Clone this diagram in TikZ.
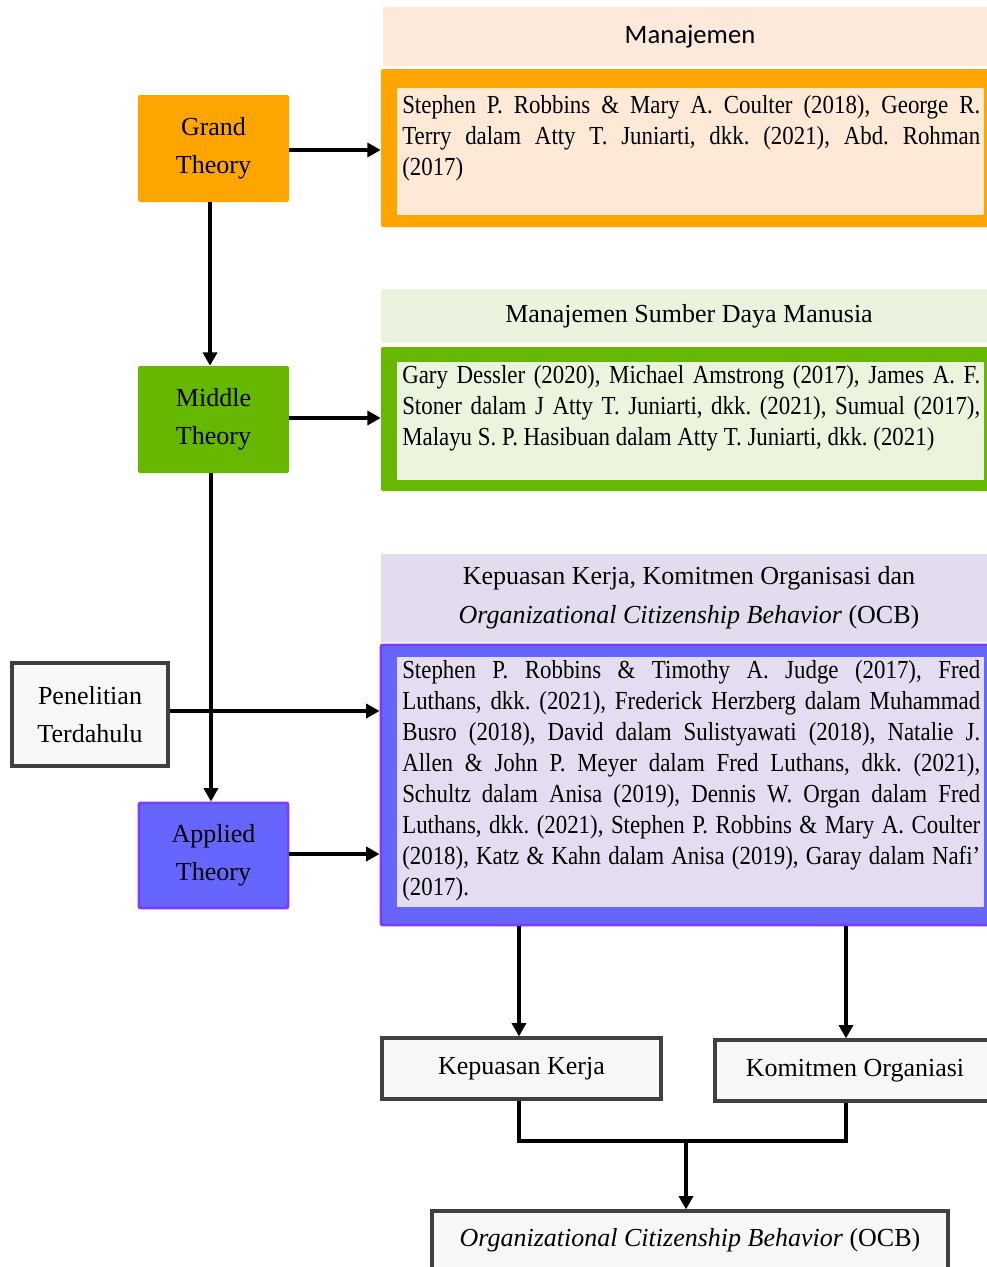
\documentclass[tikz,border=0pt]{standalone}
\usepackage{fontspec}
\setmainfont{Liberation Serif}
\newfontfamily\calibfont{Carlito}
\newfontfamily\condser[FakeStretch=0.88]{Liberation Serif}
\usetikzlibrary{arrows.meta}
\definecolor{orangeA}{HTML}{FFA500}
\definecolor{peachHdr}{HTML}{FCE9DB}
\definecolor{peachIn}{HTML}{FDE9D5}
\definecolor{greenA}{HTML}{66B700}
\definecolor{greenHdr}{HTML}{EBF3DE}
\definecolor{greenIn}{HTML}{EBF5DD}
\definecolor{blueA}{HTML}{6666FF}
\definecolor{purpleB}{HTML}{7A3CFF}
\definecolor{lavHdr}{HTML}{E2DCEE}
\definecolor{lavIn}{HTML}{E4DCF0}
\definecolor{greyFill}{HTML}{F7F7F7}
\definecolor{greyLine}{HTML}{404040}
\newcommand\labfont{\fontsize{19.5}{28.5}\selectfont}
\newcommand\hdrfont{\fontsize{19.5}{29.25}\selectfont}
\newcommand\parfont{\condser\fontsize{19.5}{23.25}\selectfont\frenchspacing}
\begin{document}
\begin{tikzpicture}[x=0.75pt,y=-0.75pt,
  box/.style={rectangle, inner sep=0pt, align=center, font=\labfont},
  theorybox/.style={box, rounded corners=1.5pt, minimum width=113.25pt, minimum height=80.25pt},
  greybox/.style={box, fill=greyFill, draw=greyLine, line width=2.4pt},
  hdr/.style={box, minimum width=462pt, font=\hdrfont},
  outerbox/.style={rectangle, inner sep=0pt, rounded corners=1.5pt, minimum width=462pt},
  innerbox/.style={rectangle, inner sep=0pt, minimum width=440.25pt},
  reftext/.style={anchor=base west, inner sep=0pt, text width=433.5pt, align=justify, font=\parfont},
  arr/.style={line width=2.8pt, -{Triangle[length=10pt,width=10.5pt]}},
  conn/.style={line width=2.8pt, line join=miter}]
\useasboundingbox (0,0) rectangle (987,1267);

% ---------- Grand theory ----------
\node[hdr, fill=peachHdr, minimum width=460.5pt, minimum height=44.25pt, font=\calibfont\fontsize{20}{24}\selectfont] (hdr1) at (690,36.5) {Manajemen};
\node[outerbox, fill=orangeA, minimum height=118.5pt] (ref1) at (689,148) {};
\node[innerbox, fill=peachIn, minimum height=95.25pt] (ref1in) at (690.5,151.5) {};
\node[reftext] (ref1txt) at (402,113) {Stephen P. Robbins \& Mary A. Coulter (2018), George R.\linebreak
Terry dalam Atty T. Juniarti, dkk. (2021), Abd. Rohman\linebreak
(2017)};
\node[theorybox, fill=orangeA] (grand) at (213.5,148.5) {Grand\\Theory};

% ---------- Middle theory ----------
\node[hdr, fill=greenHdr, minimum height=40.5pt] (hdr2) at (689,316) {Manajemen Sumber Daya Manusia};
\node[outerbox, fill=greenA, minimum height=108pt] (ref2) at (689,419) {};
\node[innerbox, fill=greenIn, minimum height=88.5pt] (ref2in) at (690.5,421) {};
\node[reftext] (ref2txt) at (402,383) {Gary Dessler (2020), Michael Amstrong (2017), James A. F.\linebreak
Stoner dalam J Atty T. Juniarti, dkk. (2021), Sumual (2017),\linebreak
Malayu S. P. Hasibuan dalam Atty T. Juniarti, dkk. (2021)};
\node[theorybox, fill=greenA] (middle) at (213.5,419.5) {Middle\\Theory};

% ---------- Applied theory ----------
\node[hdr, fill=lavHdr, minimum height=66pt] (hdr3) at (689,598) {Kepuasan Kerja, Komitmen Organisasi dan\\\textit{Organizational Citizenship Behavior} (OCB)};
\node[outerbox, fill=blueA, draw=purpleB, line width=2.2pt, minimum height=210pt] (ref3) at (689,785) {};
\node[innerbox, fill=lavIn, minimum height=187.5pt] (ref3in) at (690.5,782) {};
\node[reftext] (ref3txt) at (402,678) {Stephen P. Robbins \& Timothy A. Judge (2017), Fred\linebreak
Luthans, dkk. (2021), Frederick Herzberg dalam Muhammad\linebreak
Busro (2018), David dalam Sulistyawati (2018), Natalie J.\linebreak
Allen \& John P. Meyer dalam Fred Luthans, dkk. (2021),\linebreak
Schultz dalam Anisa (2019), Dennis W. Organ dalam Fred\linebreak
Luthans, dkk. (2021), Stephen P. Robbins \& Mary A. Coulter\linebreak
(2018), Katz \& Kahn dalam Anisa (2019), Garay dalam Nafi’\linebreak
(2017).};
\node[theorybox, fill=blueA, draw=purpleB, line width=2.2pt, minimum width=111.75pt, minimum height=78.75pt] (applied) at (213.5,855.5) {Applied\\Theory};
\node[greybox, minimum width=117pt, minimum height=77.25pt] (pen) at (90,714.5) {Penelitian\\Terdahulu};

% ---------- Outcomes ----------
\node[greybox, minimum width=209.25pt, minimum height=45.75pt] (kk) at (521.5,1068.5) {Kepuasan Kerja};
\node[greybox, minimum width=210pt, minimum height=45.75pt] (komit) at (855,1070.5) {Komitmen Organiasi};
\node[greybox, minimum width=387pt, minimum height=59.25pt] (ocb) at (690,1250.5) {};
\node[box, inner sep=0pt] (ocbtxt) at (690,1240) {\textit{Organizational Citizenship Behavior} (OCB)};

% ---------- Connectors ----------
\draw[arr] (grand.east |- 0,150) -- (ref1.west |- 0,150);
\draw[arr] ([xshift=-2.6pt]grand.south) -- ([xshift=-2.6pt]middle.north);
\draw[arr] (middle.east |- 0,418) -- (ref2.west |- 0,418);
\draw[arr] ([xshift=-1.9pt]middle.south) -- ([xshift=-1.9pt]applied.north);
\draw[arr] (pen.east |- 0,711) -- (ref3.west |- 0,711);
\draw[arr] (applied.east |- 0,854) -- (ref3.west |- 0,854);
\draw[arr] ([xshift=-1.9pt]ref3.south -| kk.north) -- ([xshift=-1.9pt]kk.north);
\draw[arr] ([xshift=-6.75pt]ref3.south -| komit.north) -- ([xshift=-6.75pt]komit.north);
\coordinate (join) at (686,1141);
\draw[conn] ([xshift=-1.9pt]kk.south) |- (join) -| ([xshift=-6.75pt]komit.south);
\draw[arr] (join) -- (ocb.north -| join);
\end{tikzpicture}
\end{document}
